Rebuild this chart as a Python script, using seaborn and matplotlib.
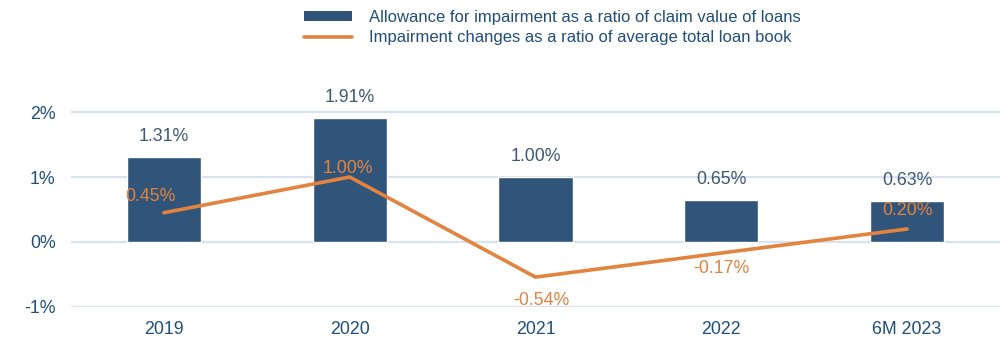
import matplotlib
matplotlib.use("Agg")
import matplotlib.pyplot as plt
from matplotlib.patches import Patch
from matplotlib.lines import Line2D
import seaborn as sns
import pandas as pd

# Chart data
periods = ["2019", "2020", "2021", "2022", "6M 2023"]
allowance_ratio = [1.31, 1.91, 1.00, 0.65, 0.63]
impairment_changes = [0.45, 1.00, -0.54, -0.17, 0.20]
y_ticks = [-1, 0, 1, 2]
series_names = [
    "Allowance for impairment as a ratio of claim value of loans",
    "Impairment changes as a ratio of average total loan book",
]

# Styling
BAR_COLOR = "#31557a"
LINE_COLOR = "#e2833f"
TEXT_COLOR = "#1f4e79"
VALUE_COLOR = "#3b5876"
GRID_COLOR = "#d9e2ee"

sns.set_theme(style="white")
plt.rcParams["font.family"] = ["Liberation Sans", "DejaVu Sans"]

df = pd.DataFrame({"period": periods, "allowance": allowance_ratio,
                   "change": impairment_changes, "pos": range(len(periods))})

fig = plt.figure(figsize=(10, 3.4), dpi=100)
ax = fig.add_axes([0.071, 0.0971, 0.929, 0.669])

sns.barplot(data=df, x="period", y="allowance", color=BAR_COLOR, width=0.4,
            saturation=1, ax=ax, zorder=2)
sns.lineplot(data=df, x="pos", y="change", color=LINE_COLOR, linewidth=2.6,
             ax=ax, zorder=3, solid_capstyle="round")

ax.set_xlim(-0.5, len(periods) - 0.5)
ax.set_ylim(-1, 2.5)
ax.set_yticks(y_ticks)
ax.set_yticklabels([f"{t}%" for t in y_ticks])
ax.set_xlabel("")
ax.set_ylabel("")
ax.grid(axis="y", color=GRID_COLOR, linewidth=1.6, zorder=0)
ax.grid(axis="x", visible=False)
for s in ax.spines.values():
    s.set_visible(False)
ax.tick_params(axis="y", length=0, pad=11, labelsize=12.8, labelcolor=TEXT_COLOR)
ax.tick_params(axis="x", length=0, pad=10, labelsize=12.8, labelcolor=TEXT_COLOR)

# Bar value labels
for i, v in enumerate(allowance_ratio):
    ax.annotate(f"{v:.2f}%", (i, v), xytext=(0, 8.5), textcoords="offset points",
                ha="center", va="bottom", fontsize=12.8, color=VALUE_COLOR)

# Line value labels (offsets in points)
line_offsets = [(-10, 12), (-1, 6), (4, -17), (0, -11), (0, 13)]
for i, (v, off) in enumerate(zip(impairment_changes, line_offsets)):
    ax.annotate(f"{v:.2f}%", (i, v), xytext=off, textcoords="offset points",
                ha="center", va="center", fontsize=12.8, color=LINE_COLOR,
                zorder=4)

handles = [Patch(facecolor=BAR_COLOR, edgecolor="none"),
           Line2D([0], [0], color=LINE_COLOR, linewidth=2.6)]
fig.legend(handles, series_names, loc="upper left",
           bbox_to_anchor=(0.297, 0.99), frameon=False, fontsize=12,
           labelcolor=TEXT_COLOR, handlelength=2.9, handleheight=0.5,
           handletextpad=1.0, labelspacing=0.32, borderaxespad=0)

fig.savefig("out.png", dpi=100)
